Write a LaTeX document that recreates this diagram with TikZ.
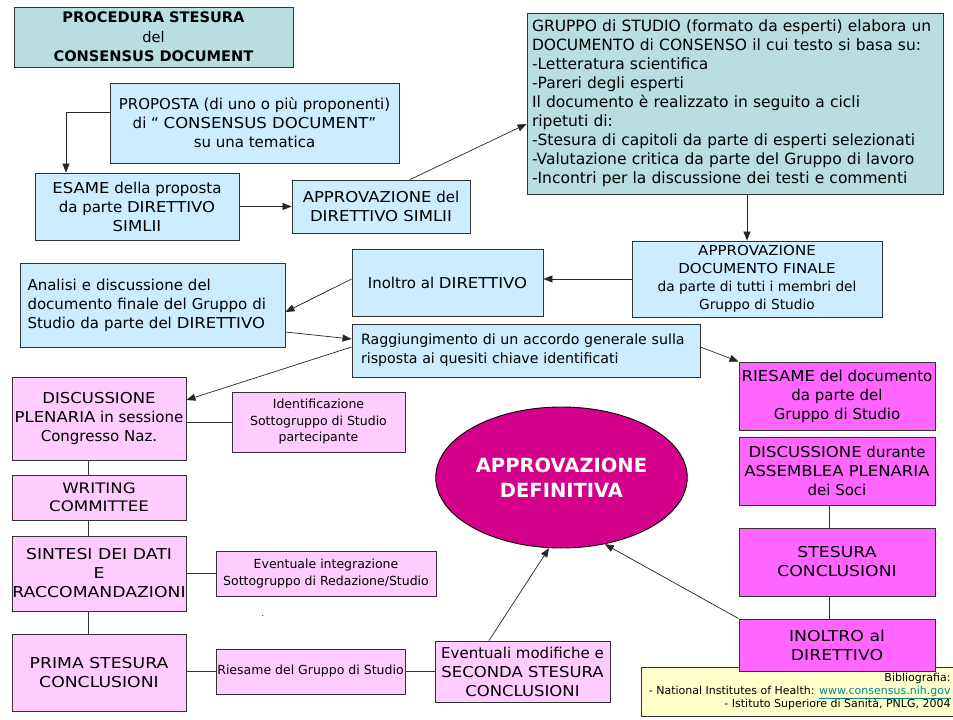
\documentclass[tikz,border=0pt]{standalone}
\usepackage{fontspec}
\setmainfont{DejaVu Sans}
\newfontfamily\widefont[FakeStretch=1.1]{DejaVu Sans}
\newfontfamily\widerfont[FakeStretch=1.15]{DejaVu Sans}
\newcommand\K[1]{{\widefont #1}}
\usetikzlibrary{arrows.meta,shapes.geometric}
\definecolor{tealbg}{HTML}{B8DEE0}
\definecolor{lblue}{HTML}{CCECFF}
\definecolor{lpink}{HTML}{FFCCFF}
\definecolor{magbox}{HTML}{FF66FF}
\definecolor{ellc}{HTML}{D4008C}
\definecolor{lyel}{HTML}{FFFFCC}
\definecolor{linkc}{HTML}{008B8B}
\newcommand\mybox[7]{\node[#6, minimum width={(#4-#2)*1pt}, minimum height={(#5-#3)*1pt}] (#1) at ({(#2+#4)/2},{(#3+#5)/2}) {#7};}
\tikzset{
  boxbase/.style={draw=black!80, line width=0.9pt, inner xsep=2pt, inner ysep=2pt, align=center, font=\fontsize{15}{19}\selectfont},
  tealbox/.style={boxbase, fill=tealbg},
  bluebox/.style={boxbase, fill=lblue},
  pinkbox/.style={boxbase, fill=lpink},
  magentabox/.style={boxbase, fill=magbox},
  smalltext/.style={font=\fontsize{12.5}{16.5}\selectfont},
  capstext/.style={font=\widerfont\fontsize{15}{19}\selectfont},
  arr/.style={-{Triangle[length=9pt,width=7pt]}, line width=0.7pt, draw=black!85},
  plainline/.style={line width=0.9pt, draw=black!80}
}
\begin{document}
\begin{tikzpicture}[x=1pt,y=-1pt]
\clip (0,0) rectangle (953,720);
\fill[white] (0,0) rectangle (953,720);
\mybox{title}{14}{7}{293}{67}{tealbox, font=\fontsize{14.6}{19.5}\selectfont}{\textbf{PROCEDURA STESURA}\\del\\\textbf{CONSENSUS DOCUMENT}}
\mybox{prop}{110}{83}{399}{163}{bluebox}{PROPOSTA (di uno o più proponenti)\\di “ \K{CONSENSUS DOCUMENT}”\\su una tematica}
\mybox{esame}{35}{173}{239}{240}{bluebox}{\K{ESAME} della proposta\\da parte \K{DIRETTIVO}\\\K{SIMLII}}
\mybox{appr}{292}{180}{470}{233}{bluebox}{\K{APPROVAZIONE} del\\\K{DIRETTIVO SIMLII}}
\mybox{gruppo}{527}{13}{943}{194}{tealbox, align=left, text width=406pt, font=\fontsize{15.5}{19}\selectfont}{GRUPPO di STUDIO (formato da esperti) elabora un\\DOCUMENTO di CONSENSO il cui testo si basa su:\\-Letteratura scientifica\\-Pareri degli esperti\\Il documento è realizzato in seguito a cicli\\ripetuti di:\\-Stesura di capitoli da parte di esperti selezionati\\-Valutazione critica da parte del Gruppo di lavoro\\-Incontri per la discussione dei testi e commenti}
\mybox{docfin}{632}{241}{882}{317}{bluebox, font=\fontsize{13.7}{18}\selectfont}{\K{APPROVAZIONE}\\\K{DOCUMENTO FINALE}\\da parte di tutti i membri del\\Gruppo di Studio}
\mybox{inoltro}{352}{249}{543}{316}{bluebox}{Inoltro al \K{DIRETTIVO}}
\mybox{analisi}{20}{263}{285}{347}{bluebox, align=left, text width=250pt}{Analisi e discussione del\\documento finale del Gruppo di\\Studio da parte del \K{DIRETTIVO}}
\mybox{ragg}{352}{324}{700}{377}{bluebox, align=left, text width=330pt, font=\fontsize{14.2}{19}\selectfont}{Raggiungimento di un accordo generale sulla\\risposta ai quesiti chiave identificati}
\mybox{discpl}{12}{377}{186}{460}{pinkbox, inner xsep=0pt}{\K{DISCUSSIONE}\\\K{PLENARIA} in sessione\\Congresso Naz.}
\mybox{ident}{232}{392}{405}{452}{pinkbox, smalltext}{Identificazione\\Sottogruppo di Studio\\partecipante}
\mybox{writing}{12}{475}{186}{520}{pinkbox, font=\widerfont\fontsize{14.5}{18}\selectfont}{WRITING\\COMMITTEE}
\mybox{sintesi}{12}{536}{186}{611}{pinkbox, capstext, inner xsep=0pt}{SINTESI DEI DATI\\E\\RACCOMANDAZIONI}
\mybox{integr}{216}{551}{436}{596}{pinkbox, smalltext}{Eventuale integrazione\\Sottogruppo di Redazione/Studio}
\mybox{prima}{12}{634}{186}{711}{pinkbox, capstext}{PRIMA STESURA\\CONCLUSIONI}
\mybox{riesg}{216}{649}{405}{694}{pinkbox, smalltext, inner xsep=1pt}{Riesame del Gruppo di Studio}
\mybox{modif}{435}{641}{610}{702}{pinkbox, inner xsep=1pt}{Eventuali modifiche e\\\K{SECONDA STESURA}\\\K{CONCLUSIONI}}
\node[ellipse, draw=black, line width=0.9pt, fill=ellc, minimum width=251pt, minimum height=141pt, text=white, font=\bfseries\fontsize{19.5}{25}\selectfont, align=center] (ell) at (561.5,477.5) {APPROVAZIONE\\DEFINITIVA};
\mybox{riesame}{739}{362}{935}{430}{magentabox}{\K{RIESAME} del documento\\da parte del\\Gruppo di Studio}
\mybox{discass}{739}{437}{935}{505}{magentabox}{\K{DISCUSSIONE} durante\\\K{ASSEMBLEA PLENARIA}\\dei Soci}
\mybox{stesura}{739}{528}{935}{596}{magentabox, capstext}{STESURA\\CONCLUSIONI}
\mybox{biblio}{641}{667}{954}{716}{boxbase, fill=lyel, font=\fontsize{11}{13.3}\selectfont, align=flush right, text width=306pt, inner xsep=2pt}{Bibliografia:\\- National Institutes of Health: \textcolor{linkc}{\underline{www.consensus.nih.gov}}\\- Istituto Superiore di Sanità, PNLG, 2004}
\mybox{inoltrodir}{739}{619}{935}{671}{magentabox, capstext}{INOLTRO al\\DIRETTIVO}
\node[font=\fontsize{8}{8}\selectfont, inner sep=0pt] (dotmark) at (263,616) {.};
% connectors
\draw[arr] ([yshift=11]prop.west) -| ([xshift=-71]esame.north);
\draw[arr] (esame.east) -- (appr.west);
\draw[arr] ([xshift=29]appr.north) -- ([yshift=-20.5]gruppo.west);
\draw[arr] ([xshift=12]gruppo.south) -- ([xshift=12]gruppo.south |- docfin.north);
\draw[arr] (docfin.west) -- (docfin.west -| inoltro.east);
\draw[arr] ([yshift=3.5]inoltro.west) -- ([yshift=-7]analisi.east);
\draw[arr] ([yshift=-27]analisi.east) -- ([yshift=11.5]ragg.west);
\draw[arr] ([yshift=3.5]ragg.west) -- ([yshift=18.5]discpl.east);
\draw[arr] ([yshift=3.5]ragg.east) -- (riesame.north west);
\draw[plainline] (discpl.east |- ident.west) -- (ident.west);
\draw[plainline] ([xshift=-11]discpl.south) -- ([xshift=-11]writing.north);
\draw[plainline] ([xshift=-11]writing.south) -- ([xshift=-11]sintesi.north);
\draw[plainline] ([xshift=-11]sintesi.south) -- ([xshift=-11]prima.north);
\draw[plainline] (sintesi.east) -- (integr.west);
\draw[plainline] (prima.east |- riesg.west) -- (riesg.west);
\draw[plainline] (riesg.east) -- (riesg.east -| modif.west);
\draw[arr] ([xshift=-33.5]modif.north) -- (ell.-100);
\draw[arr] (inoltrodir.north west) -- (ell.-57);
\draw[plainline] ([xshift=-8]discass.south) -- ([xshift=-8]stesura.north);
\draw[plainline] ([xshift=-8]stesura.south) -- ([xshift=-8]inoltrodir.north);
\end{tikzpicture}
\end{document}
